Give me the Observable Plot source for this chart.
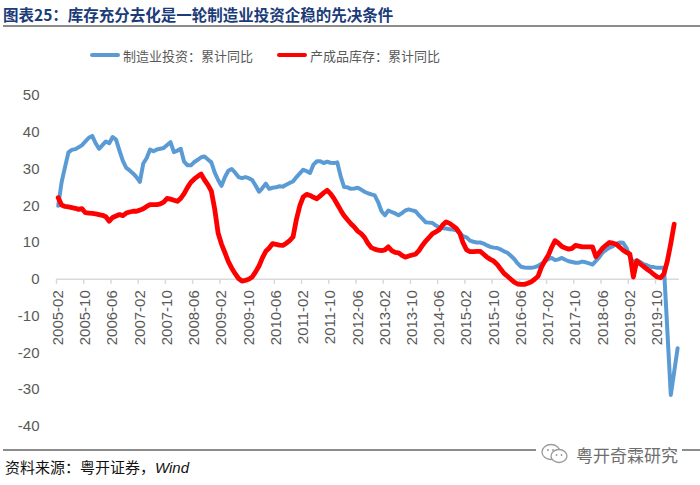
<!DOCTYPE html>
<html>
<head>
<meta charset="utf-8">
<script src="https://cdn.jsdelivr.net/npm/d3@7"></script>
<script src="https://cdn.jsdelivr.net/npm/@observablehq/plot@0.6"></script>
<style>
  html, body { margin: 0; padding: 0; background: #fff; }
  #wrap { position: relative; width: 700px; height: 485px; background: #fff; overflow: hidden;
          font-family: "Noto Sans CJK SC", "Liberation Sans", sans-serif; }
  #title { position: absolute; left: 3px; top: 3px; font-size: 15.5px; font-weight: bold; color: #1B3C78;
           white-space: nowrap; line-height: 22px; }
  #titleRule { position: absolute; left: 3px; right: 0; top: 25px; height: 2px; background: #8c8c8c; }
  #legend { position: absolute; top: 46px; left: 0; width: 700px; height: 18px; font-size: 13px; color: #595959; }
  .lg { position: absolute; top: 0; display: flex; align-items: center; height: 18px; white-space: nowrap; }
  .sw { width: 30px; height: 4px; border-radius: 2px; margin-right: 3px; }
  #chart { position: absolute; left: 0; top: 80px; }
  #bottomRule { position: absolute; left: 3px; right: 0; top: 449px; height: 1.5px; background: #8c8c8c; }
  #source { position: absolute; left: 5px; top: 457px; font-size: 15px; color: #111; white-space: nowrap; line-height: 20px; }
  #source i { font-family: "Liberation Sans", sans-serif; }
  #wm { position: absolute; left: 536px; top: 440px; height: 28px; display: flex; align-items: center;
        background: #fff; padding: 0 4px; color: #6e6e6e; font-size: 17px; white-space: nowrap; }
</style>
</head>
<body>
<div id="wrap">
  <div id="title">图表25：库存充分去化是一轮制造业投资企稳的先决条件</div>
  <div id="titleRule"></div>
  <div id="legend"></div>
  <div id="chart"></div>
  <div id="bottomRule"></div>
  <div id="source">资料来源：粤开证券，<i>Wind</i></div>
  <div id="wm">
    <svg width="30" height="24" viewBox="0 0 30 24">
      <ellipse cx="11" cy="10" rx="9" ry="7.5" fill="none" stroke="#9a9a9a" stroke-width="1.3"/>
      <ellipse cx="19" cy="14" rx="8" ry="6.5" fill="#fff" stroke="#9a9a9a" stroke-width="1.3"/>
      <circle cx="8" cy="8" r="1" fill="#9a9a9a"/><circle cx="13" cy="8" r="1" fill="#9a9a9a"/>
      <circle cx="16.5" cy="13" r="0.9" fill="#9a9a9a"/><circle cx="21.5" cy="13" r="0.9" fill="#9a9a9a"/>
    </svg>
    <span style="margin-left:6px">粤开奇霖研究</span>
  </div>
</div>
<script>
// ---------------- data ----------------
const seriesNames = ["制造业投资：累计同比", "产成品库存：累计同比"];
const seriesColors = ["#5B9BD5", "#FF0000"];

// monthly categories 2005-02 .. 2020-04
const firstMonth = "2005-02";
const lastMonth = "2020-04";

// 制造业投资：累计同比 (%), one value per month from 2005-02
const investment = [
  /*2005*/ 20.0, 26.4, 30.5, 34.5, 35.2, 35.4, 35.9, 36.5, 37.5, 38.5, 39.0,
  /*2006*/ 37.0, 35.5, 36.5, 37.5, 37.0, 38.7, 38.0, 35.0, 32.2, 30.3, 29.6, 28.8,
  /*2007*/ 27.8, 26.5, 31.5, 33.0, 35.3, 34.8, 35.3, 35.5, 35.7, 36.5, 37.3, 34.6,
  /*2008*/ 35.0, 35.5, 32.0, 31.0, 31.0, 31.9, 32.5, 33.2, 33.4, 32.6, 31.8, 29.0,
  /*2009*/ 27.0, 25.4, 27.8, 29.5, 30.0, 29.0, 27.8, 27.5, 27.8, 27.5, 27.0, 25.5,
  /*2010*/ 23.8, 24.8, 26.0, 24.6, 24.9, 25.0, 25.3, 25.2, 25.7, 26.2, 26.6, 27.8,
  /*2011*/ 28.8, 29.8, 29.4, 28.9, 31.2, 32.1, 32.1, 31.6, 32.0, 31.7, 31.6, 31.8,
  /*2012*/ 28.0, 25.1, 25.0, 24.6, 24.7, 24.9, 24.4, 23.8, 23.4, 23.1, 22.8, 21.0,
  /*2013*/ 18.5, 17.4, 18.7, 18.3, 17.9, 17.4, 18.0, 18.7, 19.0, 18.75, 18.5, 17.4,
  /*2014*/ 16.5, 15.5, 15.4, 15.3, 14.6, 14.1, 13.9, 13.8, 13.6, 13.5, 13.3, 12.5,
  /*2015*/ 11.7, 11.4, 10.5, 10.2, 10.0, 10.0, 9.7, 9.2, 8.8, 8.6, 8.5, 8.1,
  /*2016*/ 7.6, 7.2, 6.4, 5.5, 4.3, 3.4, 3.2, 3.1, 3.1, 3.3, 3.6, 4.2,
  /*2017*/ 4.8, 5.5, 5.8, 5.2, 5.4, 5.8, 5.3, 4.9, 4.7, 4.5, 4.5, 4.8,
  /*2018*/ 4.6, 4.3, 4.0, 5.0, 6.0, 7.3, 8.0, 8.6, 9.0, 9.6, 10.0, 9.9,
  /*2019*/ 8.5, 6.0, 4.6, 5.2, 4.7, 4.1, 3.8, 3.4, 3.3, 3.1, 3.1, 3.1,
  /*2020*/ null, -31.5, -25.2, -18.8
];

// 产成品库存：累计同比 (%), one value per month from 2005-02
const inventory = [
  /*2005*/ 22.2, 20.2, 19.8, 19.7, 19.5, 19.3, 19.0, 19.2, 18.1, 18.0, 17.9,
  /*2006*/ 17.8, 17.6, 17.4, 17.0, 15.8, 16.8, 17.2, 17.6, 17.3, 18.0, 18.3, 18.5,
  /*2007*/ 18.5, 18.8, 19.2, 19.8, 20.3, 20.3, 20.3, 20.5, 21.0, 22.0, 21.8, 21.5,
  /*2008*/ 21.2, 22.0, 23.3, 25.0, 26.4, 27.3, 28.0, 28.6, 27.0, 25.7, 24.0, 19.0,
  /*2009*/ 12.5, 9.5, 7.2, 4.8, 3.0, 1.5, 0.2, -0.5, -0.3, 0.0, 0.6, 2.0,
  /*2010*/ 3.6, 5.8, 7.6, 8.5, 9.7, 9.5, 9.3, 9.2, 9.8, 10.5, 11.5, 16.3,
  /*2011*/ 20.0, 22.4, 23.1, 22.8, 22.3, 21.9, 22.7, 23.5, 24.2, 23.3, 22.0, 20.4,
  /*2012*/ 18.8, 17.3, 16.2, 15.1, 14.2, 13.1, 12.4, 11.4, 9.8, 8.6, 8.2, 7.9,
  /*2013*/ 7.8, 8.0, 8.8, 7.8, 7.3, 7.2, 6.5, 6.0, 6.3, 6.6, 6.8, 7.8,
  /*2014*/ 9.2, 10.4, 11.4, 12.4, 12.9, 13.5, 14.8, 15.6, 15.2, 14.5, 13.8, 12.5,
  /*2015*/ 9.8, 8.0, 7.5, 7.5, 7.6, 7.6, 6.8, 6.0, 5.4, 4.9, 4.0, 2.8,
  /*2016*/ 1.6, 0.8, 0.0, -0.8, -1.3, -1.4, -1.4, -1.1, -0.7, 0.0, 0.8, 3.3,
  /*2017*/ 5.0, 6.5, 8.7, 10.5, 9.8, 8.9, 8.5, 8.2, 8.4, 9.2, 9.0, 8.8,
  /*2018*/ 8.8, 8.8, 8.8, 6.1, 7.3, 8.5, 9.3, 10.0, 9.8, 9.5, 8.7, 7.9,
  /*2019*/ 7.3, 6.8, 0.6, 5.0, 4.2, 3.5, 2.7, 2.1, 1.3, 0.6, 0.4, 1.5,
  /*2020*/ 5.0, 9.7, 15.0, null
];

const tickLabels = ["2005-02","2005-10","2006-06","2007-02","2007-10","2008-06","2009-02","2009-10",
  "2010-06","2011-02","2011-10","2012-06","2013-02","2013-10","2014-06","2015-02","2015-10",
  "2016-06","2017-02","2017-10","2018-06","2019-02","2019-10"];
const yTicks = [-40, -30, -20, -10, 0, 10, 20, 30, 40, 50];

// ---------------- categories ----------------
const months = [];
{
  let [yy, mm] = firstMonth.split("-").map(Number);
  const [ly, lm] = lastMonth.split("-").map(Number);
  while (yy < ly || (yy === ly && mm <= lm)) {
    months.push(`${yy}-${String(mm).padStart(2, "0")}`);
    mm++; if (mm > 12) { mm = 1; yy++; }
  }
}
const toRows = (vals) => vals.map((v, i) => ({i, month: months[i], v})).filter(d => d.v != null);
const invRows = toRows(investment);
const stockRows = toRows(inventory);
const tickIdx = tickLabels.map(l => months.indexOf(l));

// ---------------- legend ----------------
const legend = document.getElementById("legend");
const legendX = [90, 277];
seriesNames.forEach((name, k) => {
  const item = document.createElement("div");
  item.className = "lg";
  item.style.left = legendX[k] + "px";
  item.innerHTML = `<div class="sw" style="background:${seriesColors[k]}"></div><span>${name}</span>`;
  legend.appendChild(item);
});

// ---------------- chart ----------------
const chart = Plot.plot({
  width: 700,
  height: 360,
  marginTop: 15,
  marginBottom: 14.3,
  marginLeft: 56,
  marginRight: 21.2,
  style: {fontFamily: "'Liberation Sans', 'Noto Sans CJK SC', sans-serif", fontSize: "15px", color: "#595959", background: "transparent"},
  x: {domain: [0, months.length], axis: null},
  y: {domain: [-40, 50], ticks: yTicks, tickSize: 0, tickPadding: 17, label: null, tickFormat: d => String(d)},
  marks: [
    Plot.ruleY([0], {stroke: "#d9d9d9", strokeWidth: 1.5}),
    Plot.ruleX(tickIdx, {x: d => d, y1: 0, y2: -1.4, stroke: "#d9d9d9", strokeWidth: 1.5}),
    Plot.text(tickLabels, {
      x: d => months.indexOf(d) + 0.5, y: () => 0, text: d => d,
      rotate: -90, textAnchor: "end", dy: 11, fontSize: 15, fill: "#595959"
    }),
    Plot.line(invRows, {x: d => d.i + 0.5, y: "v", stroke: seriesColors[0], strokeWidth: 4, strokeLinejoin: "round", strokeLinecap: "round"}),
    Plot.line(stockRows, {x: d => d.i + 0.5, y: "v", stroke: seriesColors[1], strokeWidth: 4.8, strokeLinejoin: "round", strokeLinecap: "round"})
  ]
});
document.getElementById("chart").appendChild(chart);
</script>
</body>
</html>
